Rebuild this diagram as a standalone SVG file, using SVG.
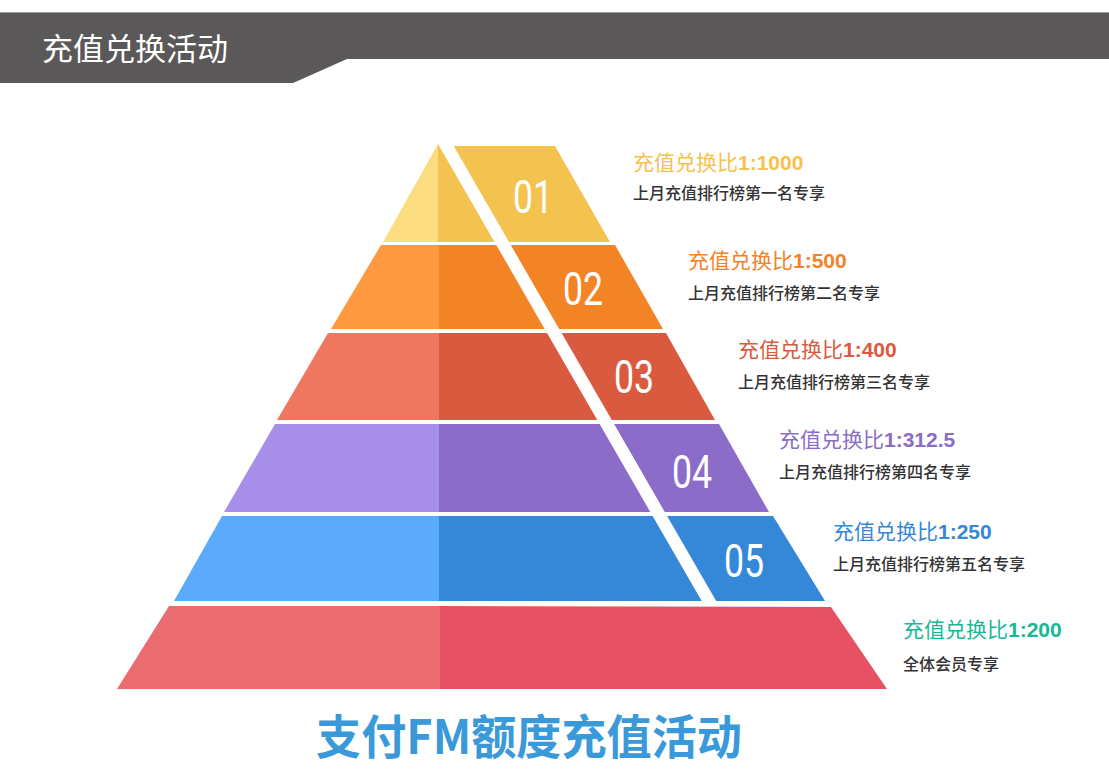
<svg xmlns="http://www.w3.org/2000/svg" width="1109" height="779" viewBox="0 0 1109 779">
<style>
.num{font-family:Roboto,"DejaVu Sans",sans-serif;font-weight:400;font-size:47px;fill:#fff;text-anchor:middle}
.ttl{font-family:"Liberation Sans","Noto Sans CJK SC",sans-serif;font-size:21px}
.ttl .cjk{font-family:"Noto Sans CJK SC",sans-serif;font-weight:400}
.ttl .nb{font-weight:bold}
.sub{font-family:"Noto Sans CJK SC",sans-serif;font-size:16px;font-weight:500;fill:#333}
</style>
<rect width="1109" height="779" fill="#fff"/>
<g id="header">
<polygon points="0,12 1109,12 1109,59 347,59 293,83 0,83" fill="#5A5858"/>
<line x1="0" y1="12.5" x2="1109" y2="12.5" stroke="#9a9a9a" stroke-width="1"/>
<text x="42" y="60" font-family="'Noto Sans CJK SC',sans-serif" font-size="31" fill="#fff">充值兑换活动</text>
</g>
<g id="layer1">
<polygon points="438,144 383,242 438,242" fill="#FCDD80"/>
<polygon points="438,144 438,242 494.5,242" fill="#F4C34F"/>
<polygon points="453.7,146 555,146 610,242 509,242" fill="#F4C34F"/>
<text class="num" transform="translate(533,213) scale(0.76,1)">01</text>
</g>
<g id="layer2">
<polygon points="381,245 439,245 439,329 331,329" fill="#FE9940"/>
<polygon points="439,245 496.3,245 544.7,329 439,329" fill="#F38426"/>
<polygon points="510.8,245 615,245 663,329 559.2,329" fill="#F38426"/>
<text class="num" transform="translate(583,305) scale(0.76,1)">02</text>
</g>
<g id="layer3">
<polygon points="328,333 439,333 439,420 277,420" fill="#EF765F"/>
<polygon points="439,333 547,333 597.3,420 439,420" fill="#DA5A40"/>
<polygon points="561.6,333 666,333 715,420 611.8,420" fill="#DA5A40"/>
<text class="num" transform="translate(634,393) scale(0.76,1)">03</text>
</g>
<g id="layer4">
<polygon points="275,424 439,424 439,512 224,512" fill="#A78EE8"/>
<polygon points="439,424 599.6,424 650.3,512 439,512" fill="#8B6CC8"/>
<polygon points="614.1,424 719,424 769,512 664.8,512" fill="#8B6CC8"/>
<text class="num" transform="translate(692,488) scale(0.76,1)">04</text>
</g>
<g id="layer5">
<polygon points="222,516 439,516 439,601 174,601" fill="#5BAAFB"/>
<polygon points="439,516 652.6,516 701.7,601 439,601" fill="#3587D8"/>
<polygon points="667.1,516 773,516 825,601 716.2,601" fill="#3587D8"/>
<text class="num" transform="translate(744,577) scale(0.76,1)">05</text>
</g>
<g id="layer6">
<polygon points="169,606 440,606 440,689 117,689" fill="#EA6B70"/>
<polygon points="440,606 831,607 887,689 440,689" fill="#E65263"/>
</g>
<g id="label1">
<text class="ttl" x="633" y="170" fill="#F5C24C"><tspan class="cjk">充值兑换比</tspan><tspan class="nb">1:1000</tspan></text>
<text class="sub" x="633" y="199">上月充值排行榜第一名专享</text>
</g>
<g id="label2">
<text class="ttl" x="688" y="268" fill="#F38226"><tspan class="cjk">充值兑换比</tspan><tspan class="nb">1:500</tspan></text>
<text class="sub" x="688" y="299">上月充值排行榜第二名专享</text>
</g>
<g id="label3">
<text class="ttl" x="738" y="357" fill="#DB5A3E"><tspan class="cjk">充值兑换比</tspan><tspan class="nb">1:400</tspan></text>
<text class="sub" x="738" y="388">上月充值排行榜第三名专享</text>
</g>
<g id="label4">
<text class="ttl" x="779" y="447" fill="#8B6CC8"><tspan class="cjk">充值兑换比</tspan><tspan class="nb">1:312.5</tspan></text>
<text class="sub" x="779" y="478">上月充值排行榜第四名专享</text>
</g>
<g id="label5">
<text class="ttl" x="833" y="539" fill="#3587D8"><tspan class="cjk">充值兑换比</tspan><tspan class="nb">1:250</tspan></text>
<text class="sub" x="833" y="570">上月充值排行榜第五名专享</text>
</g>
<g id="label6">
<text class="ttl" x="903" y="637" fill="#17B897"><tspan class="cjk">充值兑换比</tspan><tspan class="nb">1:200</tspan></text>
<text class="sub" x="903" y="670">全体会员专享</text>
</g>
<g id="footer">
<text x="316" y="754" font-family="'Noto Sans CJK SC',sans-serif" font-weight="bold" font-size="47" fill="#3A9AD9" textLength="426" lengthAdjust="spacingAndGlyphs">支付FM额度充值活动</text>
</g>
</svg>
